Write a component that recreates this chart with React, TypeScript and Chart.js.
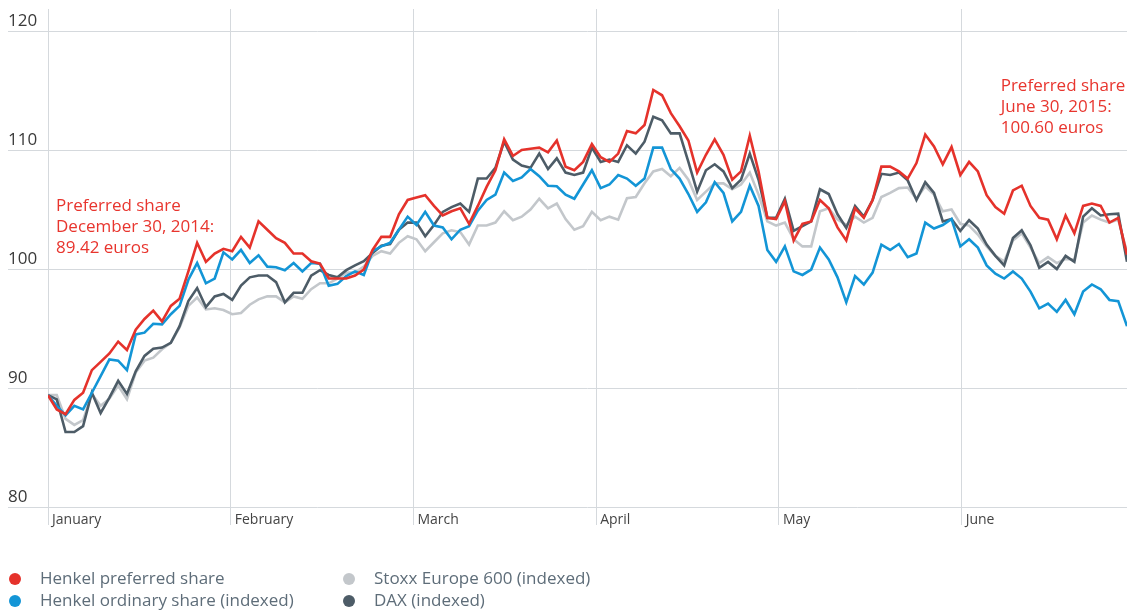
import React, { useEffect, useRef } from "react";
import { Chart, registerables } from "chart.js";

Chart.register(...registerables);

// ---------- data ----------
const MONTHS = ["January", "February", "March", "April", "May", "June"];
const MONTH_LENGTH = 20.83; // trading-day index units per month on the axis
const Y_TICKS = [80, 90, 100, 110, 120];

const HENKEL_PREF = [
  89.4, 88.2, 87.8, 89.0, 89.6, 91.5, 92.2, 92.9, 93.9, 93.2,
  94.9, 95.8, 96.5, 95.6, 96.9, 97.5, 99.8, 102.2, 100.6, 101.3,
  101.7, 101.5, 102.7, 101.8, 104.0, 103.3, 102.6, 102.2, 101.3, 101.3,
  100.65, 100.45, 99.2, 99.2, 99.2, 99.45, 99.95, 101.6, 102.7, 102.7,
  104.6, 105.8, 106.0, 106.2, 105.3, 104.5, 104.85, 105.1, 103.8, 105.3,
  106.9, 108.3, 110.9, 109.5, 110.0, 110.1, 110.2, 109.8, 110.8, 108.6,
  108.3, 109.0, 110.5, 109.4, 109.0, 109.7, 111.6, 111.4, 112.1, 115.05,
  114.6, 113.1, 112.0, 110.8, 108.1, 109.6, 110.9, 109.6, 107.5, 108.2,
  111.2, 108.2, 104.3, 104.2, 105.7, 102.4, 103.8, 104.0, 105.8, 105.1,
  103.5, 102.4, 105.1, 104.3, 105.8, 108.6, 108.6, 108.2, 107.6, 108.9,
  111.3, 110.3, 108.8, 110.25, 107.9, 109.0, 108.2, 106.2, 105.2, 104.65,
  106.6, 107.0, 105.3, 104.3, 104.15, 102.5, 104.5, 103.0, 105.3, 105.5,
  105.3, 103.9, 104.3, 101.2,
];

const HENKEL_ORD = [
  89.4, 88.5, 87.7, 88.5, 88.2, 89.6, 91.0, 92.4, 92.3, 91.5,
  94.5, 94.65, 95.4, 95.35, 96.2, 96.9, 99.1, 100.5, 98.8, 99.2,
  101.4, 100.8, 101.6, 100.5, 101.15, 100.2, 100.15, 99.9, 100.5, 99.8,
  100.5, 100.45, 98.6, 98.75, 99.4, 99.8, 99.5, 101.5, 101.9, 102.2,
  103.3, 104.4, 103.7, 104.8, 103.65, 103.5, 102.5, 103.3, 103.6, 104.9,
  105.8, 106.25, 108.1, 107.4, 107.7, 108.4, 107.8, 107.0, 106.95, 106.25,
  105.9, 107.1, 108.3, 106.8, 107.1, 107.9, 107.6, 107.0, 107.6, 110.2,
  110.2, 108.4, 107.6, 106.3, 104.8, 105.6, 107.3, 106.4, 104.0, 104.8,
  107.0, 105.3, 101.6, 100.6, 101.9, 99.8, 99.5, 99.95, 101.8, 100.8,
  99.3, 97.2, 99.4, 98.7, 99.7, 102.05, 101.6, 102.1, 101.0, 101.3,
  103.9, 103.4, 103.7, 104.2, 101.9, 102.5, 101.8, 100.3, 99.6, 99.2,
  99.8, 99.2, 98.1, 96.7, 97.1, 96.4, 97.4, 96.2, 98.1, 98.7,
  98.3, 97.4, 97.3, 95.2,
];

const STOXX_600 = [
  89.4, 89.4, 87.4, 86.9, 87.3, 89.5, 88.5, 89.1, 90.2, 89.05,
  91.3, 92.3, 92.55, 93.25, 93.8, 95.1, 96.9, 97.6, 96.6, 96.7,
  96.55, 96.2, 96.3, 97.0, 97.45, 97.7, 97.7, 97.2, 97.7, 97.5,
  98.3, 98.8, 98.8, 99.2, 99.7, 99.7, 100.2, 101.1, 101.5, 101.3,
  102.2, 102.75, 102.5, 101.5, 102.25, 103.0, 103.25, 103.1, 102.05, 103.65,
  103.65, 103.9, 104.85, 104.1, 104.4, 105.0, 105.9, 105.1, 105.5, 104.2,
  103.3, 103.6, 104.8, 104.1, 104.4, 104.15, 105.95, 106.05, 107.2, 108.2,
  108.4, 107.8, 108.5, 107.5, 105.8, 106.5, 107.2, 107.2, 106.7, 107.1,
  108.1, 106.25, 104.0, 103.65, 103.9, 102.5, 101.9, 101.9, 104.85, 105.1,
  104.15, 103.7, 104.4, 103.9, 104.3, 106.05, 106.4, 106.8, 106.85, 105.9,
  106.95, 106.25, 104.85, 105.0, 103.8, 103.65, 102.9, 101.9, 101.1, 100.65,
  102.4, 103.0, 101.8, 100.5, 101.0, 100.5, 100.85, 100.8, 103.9, 104.5,
  104.15, 103.9, 104.15, 101.4,
];

const DAX = [
  89.4, 89.05, 86.3, 86.3, 86.8, 89.6, 87.9, 89.2, 90.6, 89.5,
  91.4, 92.7, 93.3, 93.4, 93.8, 95.2, 97.3, 98.4, 96.8, 97.7,
  97.9, 97.4, 98.6, 99.3, 99.45, 99.45, 98.9, 97.2, 98.0, 98.0,
  99.45, 99.9, 99.5, 99.3, 99.9, 100.3, 100.65, 101.35, 101.95, 102.1,
  103.3, 103.9, 103.9, 102.75, 103.7, 104.8, 105.2, 105.5, 104.8, 107.6,
  107.6, 108.5, 110.7, 109.2, 108.7, 108.5, 109.7, 108.4, 109.3, 108.1,
  107.9, 108.1, 110.2, 109.0, 109.2, 109.0, 110.4, 109.7, 110.7, 112.8,
  112.5, 111.4, 111.4, 109.0, 106.5, 108.3, 108.8, 108.2, 106.8, 107.5,
  109.7, 107.5, 104.3, 104.3, 105.9, 103.2, 103.6, 104.0, 106.7, 106.3,
  104.6, 103.45, 105.3, 104.4, 105.8, 108.0, 107.9, 108.1, 107.45, 105.8,
  107.3, 106.4, 104.0, 104.2, 103.2, 104.1, 103.4, 102.05, 101.1, 100.3,
  102.6, 103.25, 102.0, 100.1, 100.6, 100.0, 101.1, 100.6, 104.4, 105.1,
  104.5, 104.6, 104.65, 100.6,
];

const SERIES_LABELS = [
  "Henkel preferred share",
  "Henkel ordinary share (indexed)",
  "Stoxx Europe 600 (indexed)",
  "DAX (indexed)",
];

const NOTE_START = ["Preferred share", "December 30, 2014:", "89.42 euros"];
const NOTE_END = ["Preferred share", "June 30, 2015:", "100.60 euros"];

// ---------- styles ----------
const RED = "#e5322b";
const BLUE = "#1395d6";
const LIGHT = "#c3c7cb";
const DARK = "#4d5c67";
const GRID = "#d5d9dd";
const FONT = '"Open Sans", "Noto Sans", sans-serif';
const W = 1127;
const H = 612;
const M = 8; // page margin reproduced inside the canvas

const SERIES = [
  { label: SERIES_LABELS[0], values: HENKEL_PREF, color: RED, order: 0 },
  { label: SERIES_LABELS[1], values: HENKEL_ORD, color: BLUE, order: 1 },
  { label: SERIES_LABELS[2], values: STOXX_600, color: LIGHT, order: 3 },
  { label: SERIES_LABELS[3], values: DAX, color: DARK, order: 2 },
];

const overlayPlugin = {
  id: "overlay",
  afterDraw(chart: any) {
    const ctx = chart.ctx as CanvasRenderingContext2D;
    const area = chart.chartArea;
    ctx.save();
    ctx.font = `17px ${FONT}`;
    ctx.textAlign = "left";
    ctx.textBaseline = "alphabetic";
    ctx.fillStyle = "#e8352e";
    NOTE_START.forEach((t, i) => ctx.fillText(t, area.left + 8, 210.7 + i * 21));
    NOTE_END.forEach((t, i) => ctx.fillText(t, 1000.7, 90.7 + i * 21.3));

    // legend (two columns)
    const ds = chart.data.datasets;
    const cols = [15, 349];
    const rows = [579, 601];
    ds.forEach((d: any, i: number) => {
      const col = Math.floor(i / 2);
      const row = i % 2;
      const cx = cols[col];
      const cy = rows[row];
      ctx.beginPath();
      ctx.fillStyle = d.borderColor;
      ctx.arc(cx, cy, 6, 0, Math.PI * 2);
      ctx.fill();
      ctx.fillStyle = "#5e6d79";
      ctx.textBaseline = "middle";
      ctx.fillText(d.label, cx + 25, cy);
    });
    ctx.restore();
  },
};

export default function App() {
  const ref = useRef<HTMLCanvasElement>(null);

  useEffect(() => {
    document.documentElement.style.overflow = "hidden";
    const n = HENKEL_PREF.length;
    const chart = new Chart(ref.current!, {
      type: "line",
      data: {
        datasets: SERIES.map((s) => ({
          label: s.label,
          data: s.values.map((v, i) => ({ x: i, y: v })),
          borderColor: s.color,
          backgroundColor: s.color,
          borderWidth: 2.6,
          pointRadius: 0,
          tension: 0,
          fill: false,
          order: s.order,
        })),
      },
      options: {
        responsive: false,
        animation: false,
        events: [],
        layout: { padding: { top: M + 1, left: M, right: 0, bottom: 75 } },
        plugins: {
          legend: { display: false },
          tooltip: { enabled: false },
        },
        scales: {
          x: {
            type: "linear",
            min: 0,
            max: n - 1,
            afterBuildTicks: (scale: any) => {
              scale.ticks = MONTHS.map((_, i) => ({ value: i * MONTH_LENGTH }));
            },
            afterFit: (scale: any) => {
              scale.height = 30;
            },
            grid: { color: GRID, lineWidth: 1, tickLength: 18, drawTicks: true },
            border: { display: false },
            ticks: {
              callback: (_v: any, i: number) => MONTHS[i],
              align: "start",
              labelOffset: 4,
              padding: -13,
              maxRotation: 0,
              autoSkip: false,
              color: "#444444",
              font: { family: FONT, size: 14 },
            },
          },
          y: {
            type: "linear",
            min: 80,
            max: 121.85,
            afterBuildTicks: (scale: any) => {
              scale.ticks = Y_TICKS.map((v) => ({ value: v }));
            },
            afterFit: (scale: any) => {
              scale.width = 40;
            },
            grid: { color: GRID, lineWidth: 1, tickLength: 40, drawTicks: true },
            border: { display: false },
            ticks: {
              crossAlign: "far",
              labelOffset: -10,
              padding: 0,
              color: "#3a3a3a",
              font: { family: FONT, size: 17, lineHeight: 0.1 },
              callback: (v: any) => String(v),
            },
          },
        },
      } as any,
      plugins: [overlayPlugin],
    });
    return () => chart.destroy();
  }, []);

  return (
    <div style={{ position: "fixed", left: 0, top: 0, width: W, height: H }}>
      <canvas ref={ref} width={W} height={H} style={{ display: "block" }} />
    </div>
  );
}
